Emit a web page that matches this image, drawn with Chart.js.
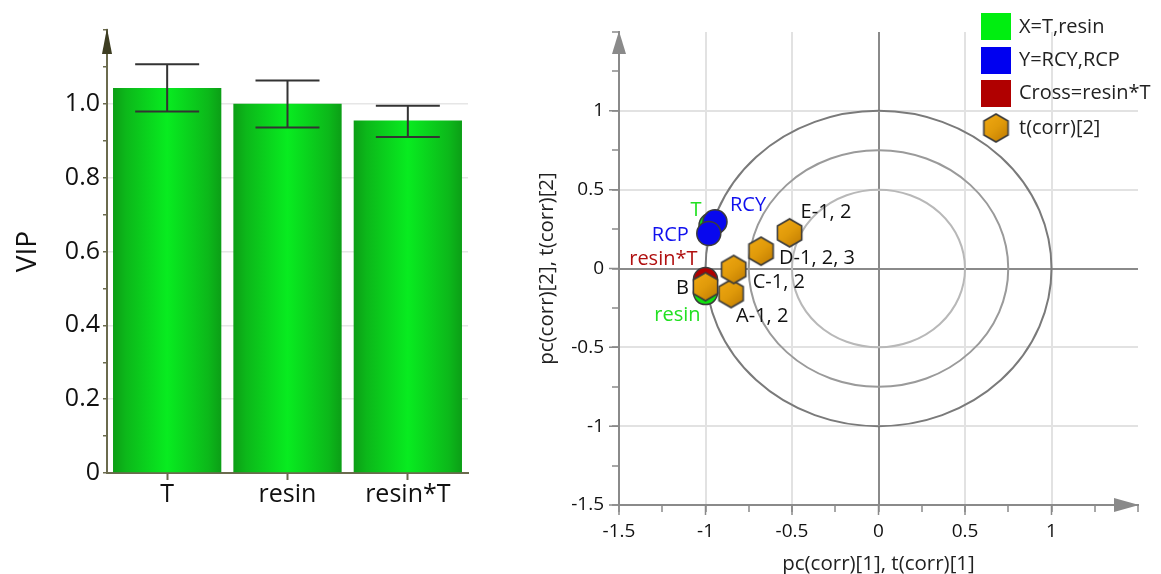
<!DOCTYPE html>
<html><head><meta charset="utf-8">
<script src="https://cdn.jsdelivr.net/npm/chart.js@4.4.1/dist/chart.umd.min.js"></script>
<style>
html,body{margin:0;padding:0;background:#fff;width:1161px;height:574px;overflow:hidden}
#c1{position:absolute;left:0;top:0}
#c2{position:absolute;left:490px;top:0}
</style></head><body>
<canvas id="c1" width="490" height="574"></canvas>
<canvas id="c2" width="671" height="574"></canvas>
<script>
// ---------- data: VIP bar chart ----------
const vipCategories = ['T', 'resin', 'resin*T'];
const vipValues = [1.043, 1.0, 0.955];
const vipErrLow = [0.979, 0.936, 0.91];
const vipErrHigh = [1.107, 1.063, 0.995];

// ---------- data: loading / score plot ----------
const xVarNames = ['T', 'resin'];
const xVarX = [-0.968, -1.0];
const xVarY = [0.275, -0.153];
const yVarNames = ['RCY', 'RCP'];
const yVarX = [-0.945, -0.981];
const yVarY = [0.296, 0.222];
const crossNames = ['resin*T'];
const crossX = [-1.0];
const crossY = [-0.07];
const obsNames = ['A-1, 2', 'B', 'C-1, 2', 'D-1, 2, 3', 'E-1, 2'];
const obsX = [-0.852, -1.0, -0.837, -0.679, -0.514];
const obsY = [-0.159, -0.115, -0.006, 0.11, 0.226];
const circleRadii = [1, 0.75, 0.5];
const majorTicks2 = [-1.5, -1, -0.5, 0, 0.5, 1];
const legendLabels = ['X=T,resin', 'Y=RCY,RCP', 'Cross=resin*T', 't(corr)[2]'];

// ---------- styles ----------
const FONT = "'Open Sans', 'DejaVu Sans', sans-serif";
const AXIS1 = '#6b6b4e';
const AXIS2 = '#8a8a8a';
const labelStyle = {
  'RCY': {dx: 15, dy: -17, align: 'left', color: '#1010ee'},
  'T': {dx: -15, dy: -15, align: 'center', color: '#22e022'},
  'RCP': {dx: -20, dy: 2, align: 'right', color: '#1010ee'},
  'resin*T': {dx: -8, dy: -20, align: 'right', color: '#b01010'},
  'B': {dx: -23, dy: 2, align: 'center', color: '#111'},
  'resin': {dx: -5, dy: 23, align: 'right', color: '#22e022'},
  'A-1, 2': {dx: 5, dy: 23, align: 'left', color: '#111'},
  'C-1, 2': {dx: 19, dy: 13, align: 'left', color: '#111'},
  'D-1, 2, 3': {dx: 18, dy: 7, align: 'left', color: '#111'},
  'E-1, 2': {dx: 11, dy: -21, align: 'left', color: '#111'}
};

function makeHex(r) {
  const w = Math.ceil(Math.sqrt(3) * r) + 4, h = Math.ceil(2 * r) + 4;
  const cv = document.createElement('canvas');
  cv.width = w; cv.height = h;
  const g = cv.getContext('2d');
  const cx = w / 2, cy = h / 2;
  g.beginPath();
  for (let k = 0; k < 6; k++) {
    const a = Math.PI / 2 + k * Math.PI / 3;
    const px = cx + r * Math.cos(a), py = cy - r * Math.sin(a);
    if (k === 0) g.moveTo(px, py); else g.lineTo(px, py);
  }
  g.closePath();
  const gr = g.createLinearGradient(0, 0, w, h);
  gr.addColorStop(0, '#f4ac14');
  gr.addColorStop(0.5, '#e09a0a');
  gr.addColorStop(1, '#b87400');
  g.fillStyle = gr; g.fill();
  g.lineWidth = 1.6; g.strokeStyle = '#3a3a3a'; g.stroke();
  return cv;
}
const hexImg = makeHex(14);

// ---------- chart 1: VIP ----------
function barGradient(ctx) {
  const chart = ctx.chart;
  const xs = chart.scales.x;
  if (!chart.chartArea || !xs || ctx.dataIndex === undefined) return '#0bd41a';
  const cx = xs.getPixelForValue(ctx.dataIndex);
  const w = xs.width / vipCategories.length * 0.9;
  const g = chart.ctx.createLinearGradient(cx - w / 2, 0, cx + w / 2, 0);
  g.addColorStop(0, '#0c9e16');
  g.addColorStop(0.12, '#0cb81a');
  g.addColorStop(0.5, '#08ec20');
  g.addColorStop(0.88, '#0cb81a');
  g.addColorStop(1, '#0c9e16');
  return g;
}

const errorBars = {
  id: 'errorBars',
  afterDatasetsDraw(chart) {
    const c = chart.ctx, ys = chart.scales.y;
    const meta = chart.getDatasetMeta(0);
    c.save();
    c.strokeStyle = '#333'; c.lineWidth = 2;
    meta.data.forEach((el, i) => {
      const yl = ys.getPixelForValue(vipErrLow[i]);
      const yh = ys.getPixelForValue(vipErrHigh[i]);
      c.beginPath();
      c.moveTo(el.x, yl); c.lineTo(el.x, yh);
      c.moveTo(el.x - 32, yl); c.lineTo(el.x + 32, yl);
      c.moveTo(el.x - 32, yh); c.lineTo(el.x + 32, yh);
      c.stroke();
    });
    c.restore();
  }
};
const arrow1 = {
  id: 'arrow1',
  afterDraw(chart) {
    const c = chart.ctx, a = chart.chartArea;
    c.save();
    c.fillStyle = '#3d3d22';
    c.beginPath();
    c.moveTo(a.left, a.top - 2);
    c.lineTo(a.left - 5, a.top + 24);
    c.lineTo(a.left + 5, a.top + 24);
    c.closePath(); c.fill();
    c.restore();
  }
};

new Chart(document.getElementById('c1'), {
  type: 'bar',
  data: {
    labels: vipCategories,
    datasets: [{data: vipValues, backgroundColor: barGradient, borderWidth: 0,
      barPercentage: 0.9, categoryPercentage: 1}]
  },
  options: {
    responsive: false, animation: false,
    layout: {padding: {top: 30, right: 22, left: 0, bottom: 0}},
    plugins: {legend: {display: false}, tooltip: {enabled: false}},
    scales: {
      x: {
        grid: {offset: false, drawOnChartArea: false, tickLength: 7, tickColor: AXIS1, tickWidth: 2},
        border: {color: AXIS1, width: 2},
        ticks: {font: {family: FONT, size: 25}, color: '#111', padding: 0},
        afterFit: s => { s.height = 101; }
      },
      y: {
        min: 0, max: 1.2,
        ticks: {
          stepSize: 0.1, autoSkip: false,
          callback: v => {
            const t = Math.round(v * 10);
            if (t % 2 !== 0 || t > 10) return '';
            return t === 0 ? '0' : (t / 10).toFixed(1);
          },
          font: {family: FONT, size: 25}, color: '#111', padding: 3
        },
        grid: {
          color: ctx => {
            const t = Math.round(ctx.tick.value * 10);
            return (t % 2 === 0 && t > 0 && t <= 10) ? '#e6e6e6' : 'rgba(0,0,0,0)';
          },
          lineWidth: 1.5, tickLength: 4, tickColor: AXIS1, tickWidth: 1.5
        },
        border: {color: AXIS1, width: 2},
        title: {display: true, text: 'VIP', font: {family: FONT, size: 28}, color: '#111', padding: {top: 11, bottom: 0}},
        afterFit: s => { s.width = 107; }
      }
    }
  },
  plugins: [errorBars, arrow1]
});

// ---------- chart 2: correlation plot ----------
const ellipses = {
  id: 'ellipses',
  beforeDatasetsDraw(chart) {
    const c = chart.ctx, xs = chart.scales.x, ys = chart.scales.y;
    const cx = xs.getPixelForValue(0), cy = ys.getPixelForValue(0);
    const cols = ['#7a7a7a', '#9a9a9a', '#b8b8b8'];
    c.save();
    c.lineWidth = 2;
    circleRadii.forEach((r, i) => {
      const rx = xs.getPixelForValue(r) - cx;
      const ry = cy - ys.getPixelForValue(r);
      c.strokeStyle = cols[i];
      c.beginPath(); c.ellipse(cx, cy, rx, ry, 0, 0, Math.PI * 2); c.stroke();
    });
    c.restore();
  }
};
const arrows2 = {
  id: 'arrows2',
  afterDraw(chart) {
    const c = chart.ctx, a = chart.chartArea, xs = chart.scales.x, ys = chart.scales.y;
    c.save();
    // longer major tick marks
    c.strokeStyle = AXIS2; c.lineWidth = 1.5;
    c.beginPath();
    majorTicks2.forEach(v => {
      const px = xs.getPixelForValue(v);
      c.moveTo(px, a.bottom); c.lineTo(px, a.bottom + 10);
      const py = ys.getPixelForValue(v);
      c.moveTo(a.left, py); c.lineTo(a.left - 10, py);
    });
    c.stroke();
    c.fillStyle = AXIS2;
    c.beginPath();
    c.moveTo(a.left, a.top - 1); c.lineTo(a.left - 7, a.top + 22); c.lineTo(a.left + 7, a.top + 22);
    c.closePath(); c.fill();
    c.beginPath();
    c.moveTo(a.right + 1, a.bottom); c.lineTo(a.right - 24, a.bottom - 7); c.lineTo(a.right - 24, a.bottom + 7);
    c.closePath(); c.fill();
    c.restore();
  }
};
const pointLabels = {
  id: 'pointLabels',
  afterDatasetsDraw(chart) {
    const c = chart.ctx;
    c.save();
    c.font = '20px ' + FONT;
    c.textBaseline = 'middle';
    chart.data.datasets.forEach((ds, di) => {
      const meta = chart.getDatasetMeta(di);
      ds.names.forEach((n, i) => {
        const st = labelStyle[n], el = meta.data[i];
        c.fillStyle = st.color; c.textAlign = st.align;
        c.fillText(n, el.x + st.dx, el.y + st.dy);
      });
    });
    c.restore();
  }
};
const legend2 = {
  id: 'legend2',
  afterDraw(chart) {
    const c = chart.ctx;
    const x0 = 491, tx = 529;
    const boxes = [['#00ee10', 13], ['#0000f0', 47], ['#b00000', 80]];
    c.save();
    boxes.forEach(([col, y]) => {
      c.fillStyle = col; c.fillRect(x0, y, 30, 27);
    });
    c.drawImage(hexImg, x0 + 15 - hexImg.width / 2, 128 - hexImg.height / 2);
    c.font = '20px ' + FONT; c.fillStyle = '#222'; c.textBaseline = 'middle'; c.textAlign = 'left';
    const ys = [27, 60, 93, 128];
    legendLabels.forEach((t, i) => c.fillText(t, tx, ys[i]));
    c.restore();
  }
};

function gridCol(ctx) {
  const v = Math.round(ctx.tick.value * 4) / 4;
  if (v === 0) return AXIS2;
  if (Math.abs(v) < 1.5 && Math.round(v * 2) === v * 2) return '#e2e2e2';
  return 'rgba(0,0,0,0)';
}
function tickLbl(v) {
  const q = Math.round(v * 4) / 4;
  if (Math.round(q * 2) !== q * 2 || q >= 1.5) return '';
  return String(q);
}
const ptBase = {pointRadius: 12, pointHoverRadius: 12, borderColor: '#3c3c3c', borderWidth: 1.5};

new Chart(document.getElementById('c2'), {
  type: 'scatter',
  data: {
    datasets: [
      {names: obsNames, data: obsX.map((x, i) => ({x, y: obsY[i]})), pointStyle: hexImg, pointRadius: 14, pointHoverRadius: 14},
      Object.assign({names: yVarNames, data: yVarX.map((x, i) => ({x, y: yVarY[i]})), backgroundColor: '#0808ee'}, ptBase),
      Object.assign({names: crossNames, data: crossX.map((x, i) => ({x, y: crossY[i]})), backgroundColor: '#b00000'}, ptBase),
      Object.assign({names: xVarNames, data: xVarX.map((x, i) => ({x, y: xVarY[i]})), backgroundColor: '#10e010'}, ptBase)
    ]
  },
  options: {
    responsive: false, animation: false,
    layout: {padding: {top: 32, right: 23, left: 0, bottom: 0}},
    plugins: {legend: {display: false}, tooltip: {enabled: false}},
    scales: {
      x: {
        type: 'linear', min: -1.5, max: 1.5,
        ticks: {stepSize: 0.25, autoSkip: false, maxRotation: 0, callback: tickLbl,
          font: {family: FONT, size: 19}, color: '#111', padding: 8},
        grid: {color: gridCol, lineWidth: 2, tickLength: 7, tickColor: AXIS2, tickWidth: 1.5},
        border: {color: AXIS2, width: 2},
        title: {display: true, text: 'pc(corr)[1], t(corr)[1]', font: {family: FONT, size: 20.5, lineHeight: 1}, color: '#222', padding: {top: 0, bottom: 0}},
        afterFit: s => { s.height = 69; }
      },
      y: {
        type: 'linear', min: -1.5, max: 1.5,
        ticks: {stepSize: 0.25, autoSkip: false, callback: tickLbl,
          font: {family: FONT, size: 19}, color: '#111', padding: 8},
        grid: {color: gridCol, lineWidth: 2, tickLength: 7, tickColor: AXIS2, tickWidth: 1.5},
        border: {color: AXIS2, width: 2},
        title: {display: true, text: 'pc(corr)[2], t(corr)[2]', font: {family: FONT, size: 20.5, lineHeight: 1}, color: '#222', padding: {top: 47, bottom: 0}},
        afterFit: s => { s.width = 129; }
      }
    }
  },
  plugins: [ellipses, pointLabels, arrows2, legend2]
});
</script>
</body></html>
